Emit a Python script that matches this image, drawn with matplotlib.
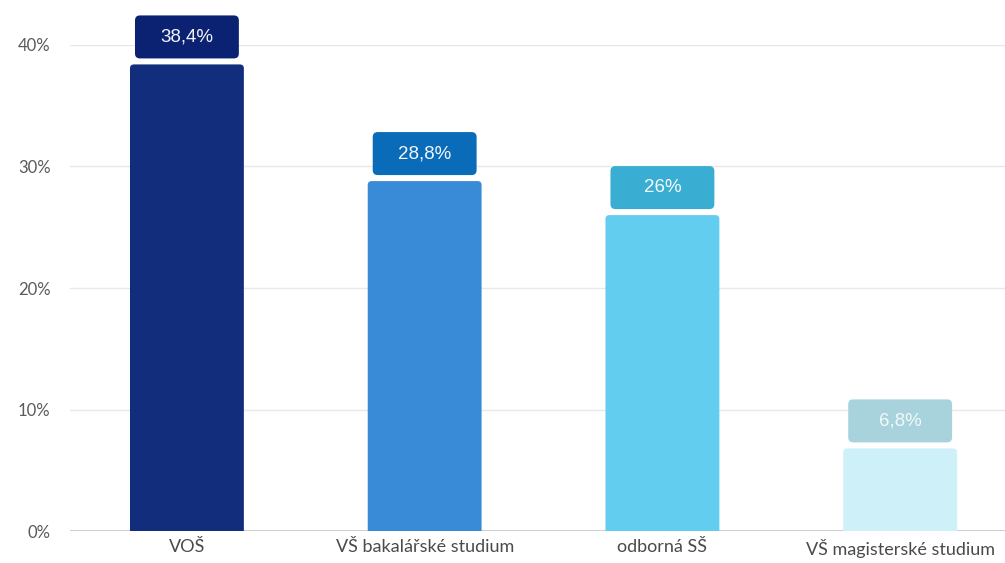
import numpy as np
import matplotlib
matplotlib.use('Agg')
import matplotlib.pyplot as plt
from matplotlib.patches import FancyBboxPatch

plt.rcParams['font.family'] = ['Lato', 'DejaVu Sans']

categories = ['VOŠ', 'VŠ bakalářské studium', 'odborná SŠ', 'VŠ magisterské studium']
values = [38.4, 28.8, 26.0, 6.8]
value_labels = ['38,4%', '28,8%', '26%', '6,8%']
bar_colors = ['#112d7c', '#3a8bd7', '#62cdee', '#cdf0f9']
box_colors = ['#0b2273', '#0a6bb8', '#39aed2', '#a8d3dd']
yticks = [0, 10, 20, 30, 40]

fig = plt.figure(figsize=(10.05, 5.63), dpi=100)
ax = fig.add_axes([0.0697, 0.0568, 0.9303, 0.8633])
ax.set_xlim(-0.4916, 3.441)
ax.set_ylim(0, 40)

# px -> data conversion
px_x = 1 / 238.0
px_y = 40 / (531 - 45.0)
aspect = px_y / px_x

x = np.arange(len(categories))
bw = 0.479
for xi, v, c in zip(x, values, bar_colors):
    p = FancyBboxPatch((xi - bw / 2, -2), bw, v + 2,
                       boxstyle='round,pad=0,rounding_size=%f' % (4 * px_x),
                       mutation_aspect=aspect, facecolor=c, edgecolor='none', zorder=3)
    ax.add_patch(p)

# value boxes above bars
box_w = 104 * px_x
box_h = 43 * px_y
gap = 6 * px_y
for xi, v, lab, bc in zip(x, values, value_labels, box_colors):
    p = FancyBboxPatch((xi - box_w / 2, v + gap), box_w, box_h,
                       boxstyle='round,pad=0,rounding_size=%f' % (5 * px_x),
                       mutation_aspect=aspect, facecolor=bc, edgecolor='none',
                       zorder=4, clip_on=False)
    ax.add_patch(p)
    ax.text(xi, v + gap + box_h / 2, lab, ha='center', va='center', color='white',
            fontsize=13.5, family=['Liberation Sans', 'DejaVu Sans'], zorder=5,
            clip_on=False, alpha=0.95 if bc != box_colors[3] else 0.85)

ax.set_yticks(yticks)
ax.set_yticklabels(['%d%%' % t for t in yticks])
ax.set_xticks(x)
ax.set_xticklabels(categories)
ax.grid(axis='y', color='#e8e8e8', linewidth=1, zorder=0)
ax.axhline(0, color='#c8c8c8', linewidth=1.2, zorder=2)
for s in ax.spines.values():
    s.set_visible(False)
ax.tick_params(axis='y', length=0, pad=14, labelsize=12, labelcolor='#5a5a5a')
ax.tick_params(axis='x', length=0, pad=6, labelsize=13, labelcolor='#4a4a4a')

fig.savefig('out.png', dpi=100)
